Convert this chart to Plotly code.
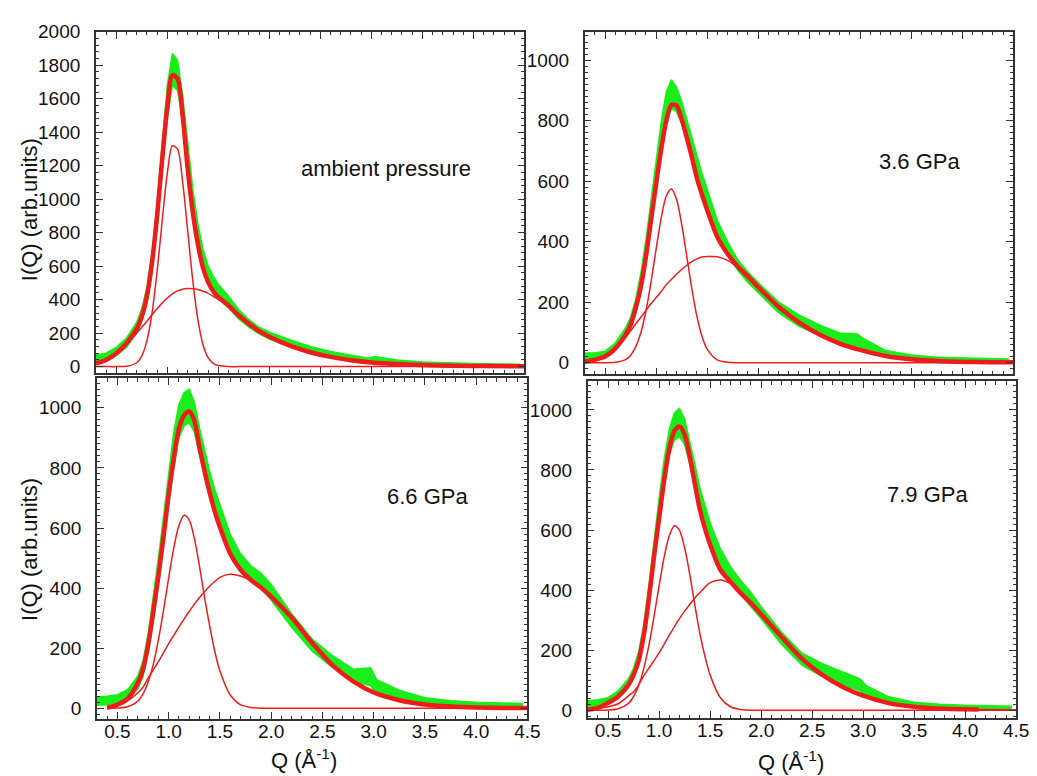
import plotly.graph_objects as go

W, H = 1037, 776
FONT = "Liberation Sans, Arial, Helvetica, sans-serif"
GREEN = "#1aee1a"
RED = "#ee1c1c"
FRAME = "#333333"

# Q grid of the fit curves and of the measured-data envelope
Q_FIT = [0.30, 0.40, 0.50, 0.60, 0.70, 0.75, 0.80, 0.85, 0.90, 0.95,
         1.00, 1.05, 1.10, 1.15, 1.20, 1.25, 1.30, 1.35, 1.40, 1.45,
         1.50, 1.60, 1.70, 1.80, 1.90, 2.00, 2.20, 2.40, 2.60, 2.80,
         3.00, 3.25, 3.50, 3.80, 4.13, 4.50]
Q_DATA = [0.30, 0.40, 0.50, 0.60, 0.70, 0.75, 0.80, 0.85, 0.90, 0.95,
          1.00, 1.05, 1.10, 1.15, 1.20, 1.25, 1.30, 1.35, 1.40, 1.45,
          1.50, 1.60, 1.70, 1.80, 1.90, 2.00, 2.20, 2.40, 2.60, 2.80,
          2.97, 3.03, 3.25, 3.50, 3.75, 4.00, 4.25, 4.45]

# ---- ambient pressure ----
AMB_TOTAL = [20, 40, 80, 140, 225, 300, 420, 620, 900, 1240,
             1550, 1740, 1720, 1500, 1180, 920, 730, 590, 505, 450,
             415, 365, 305, 255, 212, 178, 125, 86, 58, 38,
             25, 15, 9, 5, 3, 2]
AMB_NARROW = [0, 0, 0, 2, 23, 64, 154, 319, 568, 872,
              1155, 1319, 1300, 1104, 810, 512, 279, 131, 53, 19,
              6, 0, 0, 0, 0, 0, 0, 0, 0, 0,
              0, 0, 0, 0, 0, 0]
AMB_BROAD = [18, 40, 80, 135, 200, 235, 270, 310, 345, 380,
             410, 435, 452, 462, 466, 465, 460, 450, 437, 420,
             402, 362, 305, 255, 212, 178, 125, 86, 58, 38,
             25, 15, 9, 5, 3, 2]
AMB_LO = [15, 30, 65, 115, 200, 270, 380, 570, 840, 1170,
          1480, 1680, 1650, 1470, 1160, 900, 720, 590, 500, 440,
          405, 350, 285, 235, 195, 165, 120, 85, 58, 40,
          28, 30, 18, 10, 6, 3, 2, 0]
AMB_HI = [70, 80, 115, 170, 265, 345, 475, 685, 975, 1325,
          1680, 1870, 1830, 1620, 1320, 1060, 850, 700, 600, 540,
          490, 420, 340, 280, 235, 205, 160, 120, 90, 68,
          50, 60, 40, 28, 22, 18, 16, 14]

# ---- 3.6 GPa ----
P36_TOTAL = [3, 10, 20, 47, 92, 125, 180, 250, 350, 470,
             590, 705, 800, 852, 850, 805, 745, 680, 610, 555,
             505, 415, 360, 318, 285, 250, 185, 133, 93, 63,
             42, 22, 11, 5, 2, 1]
P36_NARROW = [0, 0, 0, 1, 10, 24, 52, 98, 170, 265,
              375, 478, 551, 574, 540, 459, 353, 245, 153, 87,
              45, 9, 1, 0, 0, 0, 0, 0, 0, 0,
              0, 0, 0, 0, 0, 0]
P36_BROAD = [3, 10, 18, 45, 82, 105, 128, 150, 172, 195,
             215, 235, 258, 275, 292, 308, 322, 334, 343, 349,
             351, 350, 338, 315, 285, 250, 185, 133, 93, 63,
             42, 22, 11, 5, 2, 1]
P36_LO = [10, 12, 18, 40, 85, 115, 165, 235, 330, 450,
          570, 690, 790, 840, 830, 790, 735, 670, 610, 560,
          510, 415, 355, 305, 265, 230, 165, 120, 90, 62,
          55, 45, 20, 10, 5, 2, 1, 0]
P36_HI = [32, 32, 38, 65, 115, 150, 210, 295, 405, 535,
          675, 795, 895, 935, 910, 865, 805, 745, 685, 625,
          575, 470, 400, 340, 300, 265, 200, 158, 125, 98,
          95, 80, 40, 25, 18, 15, 13, 12]

# ---- 6.6 GPa ----
P66_TOTAL = [None, 2, 12, 32, 85, 130, 210, 320, 440, 570,
             710, 830, 930, 975, 988, 958, 870, 790, 718, 655,
             603, 515, 462, 428, 402, 372, 302, 218, 143, 90,
             53, 27, 13, 5, 2, 1]
P66_NARROW = [None, 0, 1, 5, 24, 48, 87, 146, 227, 326,
              433, 533, 608, 642, 627, 567, 475, 370, 275, 190,
              125, 45, 12, 3, 0, 0, 0, 0, 0, 0,
              0, 0, 0, 0, 0, 0]
P66_BROAD = [None, 2, 8, 25, 52, 70, 100, 128, 155, 185,
             215, 243, 270, 297, 322, 346, 368, 388, 406, 422,
             436, 446, 440, 425, 402, 372, 302, 218, 143, 90,
             53, 27, 13, 5, 2, 1]
P66_LO = [10, 12, 18, 30, 65, 105, 185, 290, 410, 540,
          680, 800, 900, 940, 950, 920, 845, 770, 705, 650,
          605, 520, 465, 430, 400, 360, 270, 190, 135, 90,
          75, 50, 28, 12, 6, 3, 2, 1]
P66_HI = [38, 40, 45, 62, 108, 158, 248, 368, 498, 638,
          788, 918, 1010, 1050, 1062, 1020, 935, 858, 788, 728,
          678, 580, 515, 475, 450, 412, 315, 230, 175, 130,
          135, 95, 60, 35, 25, 20, 18, 16]

# ---- 7.9 GPa ----
P79_TOTAL = [2, 8, 25, 46, 85, 118, 165, 250, 370, 510,
             638, 765, 870, 930, 945, 918, 845, 755, 668, 605,
             552, 468, 428, 390, 357, 320, 245, 172, 118, 78,
             49, 24, 12, 5, 3, None]
P79_NARROW = [0, 0, 1, 5, 23, 46, 83, 139, 216, 311,
              414, 510, 581, 614, 599, 542, 454, 352, 255, 180,
              118, 42, 12, 3, 0, 0, 0, 0, 0, 0,
              0, 0, 0, 0, 0, 0]
P79_BROAD = [2, 6, 12, 22, 48, 62, 85, 115, 140, 165,
             191, 220, 250, 278, 305, 330, 352, 374, 392, 410,
             425, 434, 422, 395, 358, 320, 245, 172, 118, 78,
             49, 24, 12, 5, 3, 2]
P79_LO = [12, 15, 22, 40, 75, 105, 155, 235, 350, 490,
          620, 750, 850, 900, 910, 885, 820, 740, 665, 610,
          555, 475, 425, 385, 345, 305, 220, 150, 112, 85,
          65, 45, 22, 10, 5, 3, 2, 1]
P79_HI = [32, 35, 42, 65, 105, 140, 195, 285, 415, 565,
          705, 835, 935, 990, 1005, 970, 900, 820, 740, 680,
          625, 538, 478, 432, 392, 345, 260, 190, 155, 128,
          105, 82, 45, 27, 20, 17, 15, 14]

LABELS = ["ambient pressure", "3.6 GPa", "6.6 GPa", "7.9 GPa"]
LABEL_POS = [(3.14, 1185), (3.58, 665), (3.53, 706), (3.63, 719)]
Y_RANGES = [[-41, 2000], [-39, 1094], [-36, 1098], [-26, 1095]]
Y_MINOR = [40, 20, 20, 20]
BOXES = [(89, 14, 523, 362), (584, 14, 1018, 363),
         (90, 367, 526, 714), (587, 370, 1021, 713)]

PANELS = [
    (AMB_TOTAL, AMB_NARROW, AMB_BROAD, AMB_LO, AMB_HI),
    (P36_TOTAL, P36_NARROW, P36_BROAD, P36_LO, P36_HI),
    (P66_TOTAL, P66_NARROW, P66_BROAD, P66_LO, P66_HI),
    (P79_TOTAL, P79_NARROW, P79_BROAD, P79_LO, P79_HI),
]

fig = go.Figure()
annotations = []
for i, (total, narrow, broad, lo, hi) in enumerate(PANELS):
    n = i + 1
    xa = "x" if n == 1 else f"x{n}"
    ya = "y" if n == 1 else f"y{n}"
    fig.add_trace(go.Scatter(
        x=Q_DATA + Q_DATA[::-1], y=hi + lo[::-1], mode="lines",
        fill="toself", fillcolor=GREEN, line=dict(color=GREEN, width=1.5),
        xaxis=xa, yaxis=ya, hoverinfo="skip", showlegend=False))
    for comp in (narrow, broad):
        fig.add_trace(go.Scatter(
            x=Q_FIT, y=comp, mode="lines",
            line=dict(color=RED, width=1.5, shape="spline", smoothing=0.8),
            xaxis=xa, yaxis=ya, showlegend=False))
    fig.add_trace(go.Scatter(
        x=Q_FIT, y=total, mode="lines",
        line=dict(color=RED, width=4.5, shape="spline", smoothing=0.8),
        xaxis=xa, yaxis=ya, showlegend=False))

    x0, y0, x1, y1 = BOXES[i]
    bottom = n >= 3
    xaxis = dict(
        domain=[x0 / W, x1 / W], range=[0.3, 4.5], anchor=ya,
        tickmode="array", tickvals=[0.5 * k for k in range(1, 10)],
        ticktext=[f"{0.5 * k:.1f}" for k in range(1, 10)],
        showticklabels=bottom,
        ticks="inside", ticklen=7, tickwidth=1.3, tickcolor=FRAME,
        minor=dict(ticks="inside", ticklen=3.5, dtick=0.1, tick0=0,
                   tickcolor=FRAME, tickwidth=1, showgrid=False),
        showline=True, linecolor=FRAME, linewidth=1.6, mirror="allticks",
        showgrid=False, zeroline=False, ticklabelstandoff=-6,
        tickfont=dict(family=FONT, size=19, color="#111111"))
    yaxis = dict(
        domain=[1 - y1 / H, 1 - y0 / H], range=Y_RANGES[i], anchor=xa,
        tickmode="linear", tick0=0, dtick=200,
        ticks="inside", ticklen=7, tickwidth=1.3, tickcolor=FRAME,
        minor=dict(ticks="inside", ticklen=3.5, dtick=Y_MINOR[i], tick0=0,
                   tickcolor=FRAME, tickwidth=1, showgrid=False),
        showline=True, linecolor=FRAME, linewidth=1.6, mirror="allticks",
        showgrid=False, zeroline=False, ticklabelstandoff=10,
        tickfont=dict(family=FONT, size=19, color="#111111"))
    fig.layout["xaxis" if n == 1 else f"xaxis{n}"] = xaxis
    fig.layout["yaxis" if n == 1 else f"yaxis{n}"] = yaxis

    lx, ly = LABEL_POS[i]
    annotations.append(dict(x=lx, y=ly, xref=xa, yref=ya, text=LABELS[i],
                            showarrow=False, xanchor="center", yanchor="middle",
                            font=dict(family=FONT, size=22, color="#111111")))

# axis titles
for yc in (195, 541):
    annotations.append(dict(x=22 / W, y=1 - yc / H, xref="paper", yref="paper",
                            text="I(Q) (arb.units)", textangle=-90, showarrow=False,
                            xanchor="center", yanchor="middle",
                            font=dict(family=FONT, size=22, color="#111111")))
for xc, yc in ((300, 755), (793, 757)):
    annotations.append(dict(x=xc / W, y=1 - yc / H, xref="paper", yref="paper",
                            text="Q (Å<sup>-1</sup>)", showarrow=False,
                            xanchor="center", yanchor="middle",
                            font=dict(family=FONT, size=22, color="#111111")))

fig.update_layout(
    width=W, height=H, margin=dict(l=0, r=0, t=0, b=0),
    paper_bgcolor="white", plot_bgcolor="white",
    showlegend=False, annotations=annotations,
    font=dict(family=FONT),
)

fig.write_html("out.html")
